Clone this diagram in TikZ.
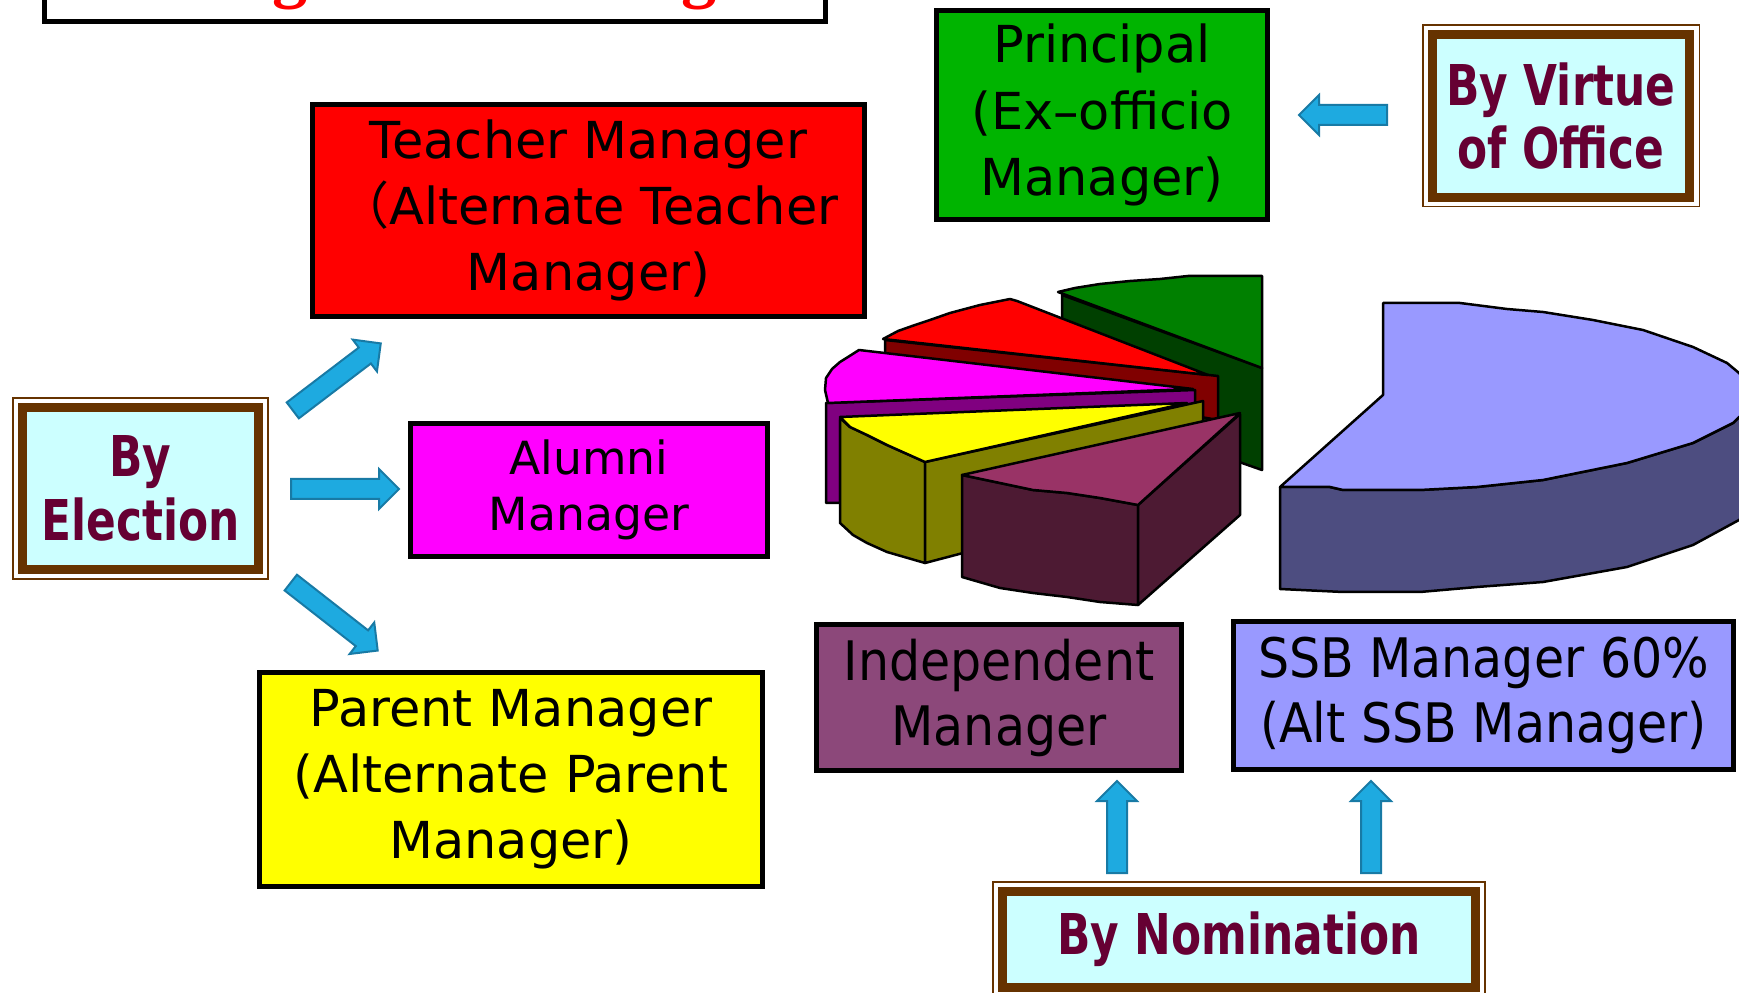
\documentclass[tikz,border=0pt]{standalone}
\usepackage{fontspec}
\setmainfont{DejaVu Sans}
\newfontfamily\condfont[FakeStretch=0.9]{DejaVu Sans}
\newfontfamily\labelfont[FakeStretch=0.78]{DejaVu Sans}
\newfontfamily\headfont{Liberation Serif}
\newfontfamily\cjk{Noto Sans CJK SC}
\usetikzlibrary{positioning,calc,shapes.arrows}

\definecolor{framebrown}{RGB}{102,51,0}
\definecolor{labelcyan}{RGB}{204,255,255}
\definecolor{labelwine}{RGB}{102,0,51}
\definecolor{arrowblue}{RGB}{30,170,224}
\definecolor{arrowedge}{RGB}{24,122,165}
\definecolor{teachred}{RGB}{255,0,0}
\definecolor{princgreen}{RGB}{0,180,0}
\definecolor{alummag}{RGB}{255,0,255}
\definecolor{parentyel}{RGB}{255,255,0}
\definecolor{indepplum}{RGB}{140,72,122}
\definecolor{ssbblue}{RGB}{153,153,255}
% pie faces: top / side
\definecolor{piegreen}{RGB}{0,128,0}
\definecolor{piegreendk}{RGB}{0,64,0}
\definecolor{piered}{RGB}{255,0,0}
\definecolor{piereddk}{RGB}{128,0,0}
\definecolor{piemag}{RGB}{255,0,255}
\definecolor{piemagdk}{RGB}{128,0,128}
\definecolor{pieyel}{RGB}{255,255,0}
\definecolor{pieyeldk}{RGB}{128,128,0}
\definecolor{pieplum}{RGB}{153,51,102}
\definecolor{pieplumdk}{RGB}{77,26,51}
\definecolor{pieblue}{RGB}{153,153,255}
\definecolor{piebluedk}{RGB}{77,77,128}

\tikzset{
  mgrbox/.style={draw=black, line width=0.45mm, inner sep=0pt, align=center,
    font=\fontsize{14.5}{18.8}\selectfont},
  wayframe/.style={draw=framebrown, line width=0.9mm, fill=labelcyan, inner sep=0pt,
    align=center, text=labelwine, font=\labelfont\bfseries\fontsize{16}{18}\selectfont},
  thinframe/.style={draw=framebrown, line width=0.15mm},
  arrowbody/.style={single arrow, draw=arrowedge, fill=arrowblue, line width=0.2mm,
    inner xsep=0pt, inner ysep=0.9mm, minimum width=0pt, single arrow head extend=1mm},
  blockarrow/.style={to path={
    let \p1=($(\tikztotarget)-(\tikztostart)$),
        \n1={atan2(\y1,\x1)}, \n2={veclen(\x1,\y1)} in
    node[arrowbody, rotate=\n1, minimum height=\n2, anchor=tail] at (\tikztostart) {}}},
  pieedge/.style={draw=black, line width=0.25mm, line join=round},
}

\begin{document}
\begin{tikzpicture}[x=0.1mm, y=-0.1mm]
    \useasboundingbox (0,0) rectangle (1739,993);
    % title box, cut off at the top
    \draw[line width=0.5mm] (44,-60) rectangle (825,21.5);
    \foreach \gx in {290,699}
        \node[text=red, font=\headfont\bfseries\fontsize{20}{24}\selectfont, anchor=base, inner sep=0pt] (g\gx) at (\gx,-5) {g};

    % the pie, back slices first
    \filldraw[pieedge, fill=piegreendk] (1062,295) -- (1262,368) -- (1262,470) -- (1062,400) -- cycle;
    \filldraw[pieedge, fill=piegreen] (1058,292) -- (1075,288) -- (1100,284) -- (1130,281) -- (1160,279)
        -- (1188,276) -- (1262,276) -- (1262,368) -- cycle;
    \filldraw[pieedge, fill=piereddk] (885,340) -- (1218,376) -- (1218,420) -- (885,362) -- cycle;
    \filldraw[pieedge, fill=piered] (883,339) -- (898,331) -- (915,325) -- (930,320) -- (950,313)
        -- (980,305) -- (1010,299) -- (1017,301) -- (1208,375) -- cycle;
    \filldraw[pieedge, fill=piemagdk] (826,403) -- (1195,390) -- (1195,406) -- (840,420)
        -- (840,503) -- (826,503) -- cycle;
    \filldraw[pieedge, fill=piemag] (828,403) -- (825,390) -- (826,378) -- (832,369) -- (840,362)
        -- (848,357) -- (859,350) -- (1193,389) -- cycle;
    \filldraw[pieedge, fill=pieyeldk] (840,418) -- (850,427) -- (867,435) -- (887,445) -- (925,462)
        -- (925,563) -- (887,552) -- (867,543) -- (853,535) -- (840,523) -- cycle;
    \filldraw[pieedge, fill=pieyeldk] (925,462) -- (1203,401) -- (1203,490) -- (925,563) -- cycle;
    \filldraw[pieedge, fill=pieyel] (840,417) -- (1187,403) -- (925,462) -- (887,445) -- (867,435)
        -- (850,427) -- cycle;
    \filldraw[pieedge, fill=pieplumdk] (962,475) -- (962,577) -- (1000,588) -- (1033,593) -- (1067,597)
        -- (1100,602) -- (1138,605) -- (1138,505) -- (1100,498) -- (1067,493) -- (1033,490)
        -- (1000,483) -- cycle;
    \filldraw[pieedge, fill=pieplumdk] (1138,505) -- (1240,414) -- (1240,515) -- (1138,605) -- cycle;
    \filldraw[pieedge, fill=pieplum] (962,475) -- (1240,413) -- (1138,505) -- (1100,498) -- (1067,493)
        -- (1033,490) -- (1000,483) -- cycle;
    % the big slice
    \filldraw[pieedge, fill=piebluedk] (1280,487) -- (1280,589) -- (1343,592) -- (1420,592) -- (1477,587)
        -- (1543,582) -- (1627,567) -- (1693,545) -- (1739,520) -- (1760,505) -- (1760,410)
        -- (1739,417) -- (1733,423) -- (1693,443) -- (1627,463) -- (1543,480) -- (1477,487)
        -- (1420,490) -- (1343,490) -- (1330,487) -- cycle;
    \filldraw[pieedge, fill=pieblue] (1383,303) -- (1460,303) -- (1507,309) -- (1543,312) -- (1593,320)
        -- (1643,330) -- (1693,347) -- (1727,363) -- (1739,373) -- (1760,395) -- (1760,410)
        -- (1739,417) -- (1733,423) -- (1693,443) -- (1627,463) -- (1543,480) -- (1477,487)
        -- (1420,490) -- (1343,490) -- (1330,487) -- (1280,487) -- (1383,395) -- cycle;

    % managers
    \node[mgrbox, fill=teachred, minimum width=55.2mm, minimum height=21.2mm] (teacher) at (588.5,210.5)
        {Teacher Manager\\{\cjk （}Alternate Teacher\\Manager)};
    \node[mgrbox, fill=princgreen, minimum width=33.1mm, minimum height=20.9mm] (principal) at (1102,115)
        {Principal\\(Ex–officio\\Manager)};
    \node[mgrbox, fill=alummag, minimum width=35.7mm, minimum height=13.3mm,
        font=\fontsize{13}{16}\selectfont] (alumni) at (589,490) {Alumni\\Manager};
    \node[mgrbox, fill=parentyel, minimum width=50.3mm, minimum height=21.4mm] (parent) at (511,779.5)
        {Parent Manager\\(Alternate Parent\\Manager)};
    \node[mgrbox, fill=indepplum, minimum width=36.5mm, minimum height=14.6mm,
        font=\condfont\fontsize{15.5}{18.5}\selectfont] (indep) at (999,697.5) {Independent\\Manager};
    \node[mgrbox, fill=ssbblue, minimum width=50mm, minimum height=14.8mm,
        font=\condfont\fontsize{15.5}{18.5}\selectfont] (ssb) at (1483.5,695.5)
        {SSB Manager 60\%\\(Alt SSB Manager)};

    % ways of joining
    \node[wayframe, minimum width=23.6mm, minimum height=16.2mm] (elect) at (140.5,488.5) {By\\Election};
    \node[wayframe, minimum width=25.75mm, minimum height=16.25mm] (virtue) at (1561,116) {By Virtue\\of Office};
    \node[wayframe, minimum width=47.3mm, minimum height=9.6mm] (nomin) at (1239,939.5) {By Nomination};
    \foreach \n in {elect,virtue,nomin}
        \draw[thinframe] ([shift={(-0.5mm,0.5mm)}]\n.north west) rectangle ([shift={(0.5mm,-0.5mm)}]\n.south east);

    % arrows
    \coordinate (ea1) at (292,411);  \coordinate (ea2) at (380,344);
    \coordinate (eb1) at (290,489);  \coordinate (eb2) at (398,489);
    \coordinate (ec1) at (290,582);  \coordinate (ec2) at (377,650);
    \coordinate (va1) at (1388,115); \coordinate (va2) at (1300,115);
    \coordinate (na1) at (1117,874); \coordinate (na2) at (1117,782);
    \coordinate (nb1) at (1371,874); \coordinate (nb2) at (1371,782);
    \path (ea1) to[blockarrow] (ea2);
    \path (eb1) to[blockarrow] (eb2);
    \path (ec1) to[blockarrow] (ec2);
    \path (va1) to[blockarrow] (va2);
    \path (na1) to[blockarrow] (na2);
    \path (nb1) to[blockarrow] (nb2);
\end{tikzpicture}
\end{document}
